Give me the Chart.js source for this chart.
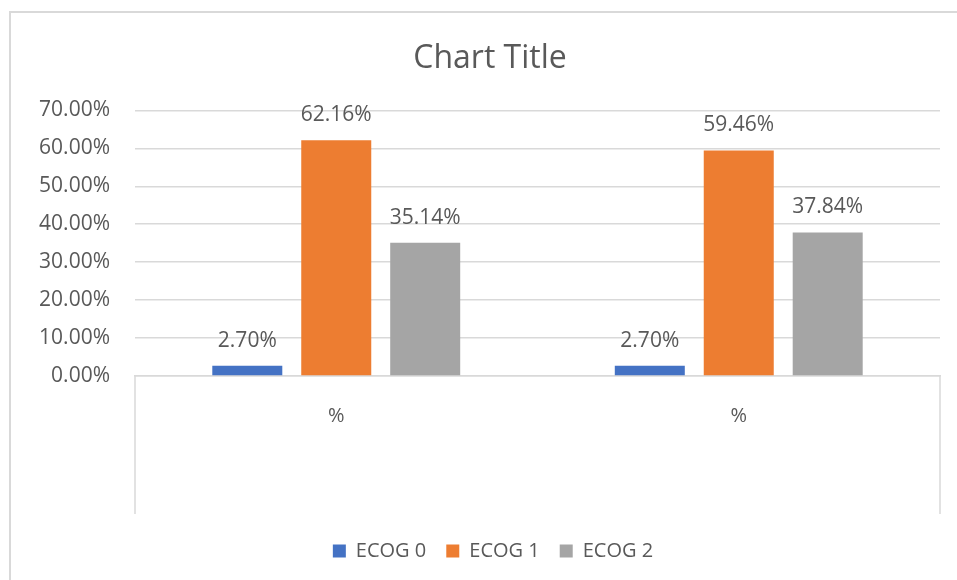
<!DOCTYPE html>
<html>
<head>
<meta charset="utf-8">
<script src="https://cdn.jsdelivr.net/npm/chart.js@4"></script>
<style>
  html, body { margin: 0; padding: 0; background: #fff; }
  #wrap { width: 957px; height: 580px; }
</style>
</head>
<body>
<div id="wrap"><canvas id="chart" width="957" height="580"></canvas></div>
<script>
const categories = ['%', '%'];
const seriesNames = ['ECOG 0', 'ECOG 1', 'ECOG 2'];
const ecog0 = [2.70, 2.70];
const ecog1 = [62.16, 59.46];
const ecog2 = [35.14, 37.84];
const colors = ['#4472C4', '#ED7D31', '#A5A5A5'];

const TEXT = '#595959';
const LINE = '#D9D9D9';

Chart.defaults.font.family = '"Open Sans", sans-serif';
Chart.defaults.color = TEXT;

// value labels above each bar
const barLabels = {
  id: 'barLabels',
  afterDatasetsDraw(chart) {
    const ctx = chart.ctx;
    ctx.save();
    ctx.font = '21px "Open Sans", sans-serif';
    ctx.fillStyle = TEXT;
    ctx.textAlign = 'center';
    ctx.textBaseline = 'middle';
    chart.data.datasets.forEach((ds, i) => {
      chart.getDatasetMeta(i).data.forEach((bar, j) => {
        ctx.fillText(ds.data[j].toFixed(2) + '%', bar.x, bar.y - 25);
      });
    });
    ctx.restore();
  }
};

// the original chart was wider than this crop, so title and legend sit a bit right of centre
const nudge = {
  id: 'nudge',
  afterLayout(chart) {
    chart.titleBlock.left += 20;
    chart.titleBlock.right += 20;
    chart.legend.left += 23;
    chart.legend.right += 23;
  }
};

// chart border (top/left) and the category axis side lines
const frame = {
  id: 'frame',
  beforeDraw(chart) {
    const ctx = chart.ctx;
    ctx.save();
    ctx.fillStyle = LINE;
    ctx.fillRect(9, 11, 2, chart.height - 11);
    ctx.fillRect(9, 11, chart.width - 9, 2);
    const x = chart.scales.x;
    ctx.strokeStyle = LINE;
    ctx.lineWidth = 1.5;
    ctx.beginPath();
    ctx.moveTo(x.left, x.top);
    ctx.lineTo(x.left, x.top + 138);
    ctx.moveTo(x.right, x.top);
    ctx.lineTo(x.right, x.top + 138);
    ctx.stroke();
    ctx.restore();
  }
};

new Chart(document.getElementById('chart'), {
  type: 'bar',
  data: {
    labels: categories,
    datasets: [ecog0, ecog1, ecog2].map((d, i) => ({
      label: seriesNames[i],
      data: d,
      backgroundColor: colors[i],
      borderWidth: 0,
      categoryPercentage: 0.663,
      barPercentage: 0.787,
    }))
  },
  options: {
    responsive: false,
    animation: false,
    layout: { padding: { left: 0, right: 17, top: 0, bottom: 9 } },
    plugins: {
      title: {
        display: true,
        text: 'Chart Title',
        color: TEXT,
        font: { size: 32, weight: 'normal' },
        padding: { top: 40, bottom: 32 }
      },
      legend: {
        position: 'bottom',
        labels: { color: TEXT, font: { size: 20 }, boxWidth: 13, boxHeight: 13, padding: 20 }
      },
      tooltip: { enabled: false }
    },
    scales: {
      x: {
        grid: { display: false },
        border: { display: true, color: LINE, width: 1.5 },
        ticks: { color: TEXT, font: { size: 20 }, padding: 20 },
        afterFit: s => { s.height = 145; }
      },
      y: {
        min: 0, max: 70,
        ticks: { stepSize: 10, color: TEXT, font: { size: 21 }, padding: 25,
                 callback: v => v.toFixed(2) + '%' },
        grid: { color: LINE, lineWidth: 1.5, drawTicks: false },
        border: { display: false },
        afterFit: s => { s.width = 135; }
      }
    }
  },
  plugins: [barLabels, nudge, frame]
});
</script>
</body>
</html>
